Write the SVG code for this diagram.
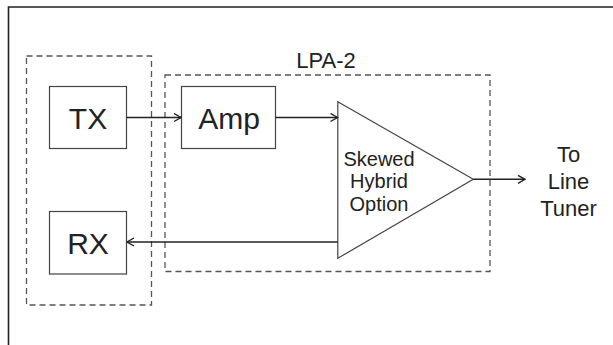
<svg xmlns="http://www.w3.org/2000/svg" width="613" height="345" viewBox="0 0 613 345">
<style>
.frame{fill:none;stroke:#222;stroke-width:1.6}
.dash{fill:none;stroke:#555;stroke-width:1.3;stroke-dasharray:6 4}
.box{fill:#fff;stroke:#444;stroke-width:1.2}
.line{fill:none;stroke:#222;stroke-width:1.4}
.big{font-family:"Liberation Sans",Arial,sans-serif;font-size:30px;fill:#222;text-anchor:middle}
.mid{font-family:"Liberation Sans",Arial,sans-serif;font-size:22px;fill:#222;text-anchor:middle}
.sm{font-family:"Liberation Sans",Arial,sans-serif;font-size:20px;fill:#222;text-anchor:middle}
</style>
<defs>
<marker id="arr" viewBox="0 0 10 10" refX="9" refY="5" markerWidth="10" markerHeight="10" markerUnits="userSpaceOnUse" orient="auto">
<path d="M2,1 L9,5 L2,9" fill="none" stroke="#222" stroke-width="1.4"/>
</marker>
</defs>
<rect width="613" height="345" fill="#fff"/>
<path class="frame" d="M8.5,345 V7 H613"/>
<g id="group-txrx"><rect class="dash" x="26.5" y="56" width="125" height="249"/></g>
<g id="group-lpa2"><rect class="dash" x="165" y="75" width="325" height="196.5"/>
<text class="mid" x="326" y="68">LPA-2</text></g>
<g id="tx"><rect class="box" x="49.5" y="86.5" width="77" height="62"/><text class="big" x="88" y="128.5">TX</text></g>
<g id="rx"><rect class="box" x="49.5" y="211.5" width="77" height="62.5"/><text class="big" x="88" y="253.5">RX</text></g>
<g id="amp"><rect class="box" x="181.5" y="86.5" width="94" height="62"/><text class="big" x="229" y="128.5">Amp</text></g>
<g id="hybrid"><polygon class="box" points="337.8,101.7 473.3,179.3 337.8,258.3"/>
<text class="sm" x="379" y="165.7">Skewed</text>
<text class="sm" x="379" y="188.3">Hybrid</text>
<text class="sm" x="379" y="210.7">Option</text></g>
<g id="tuner"><text class="mid" x="568.5" y="162">To</text><text class="mid" x="568.5" y="189">Line</text><text class="mid" x="568.5" y="215.7">Tuner</text></g>
<g id="connectors">
<line class="line" x1="126.5" y1="117.5" x2="181" y2="117.5" marker-end="url(#arr)"/>
<line class="line" x1="275.5" y1="117.5" x2="337.5" y2="117.5" marker-end="url(#arr)"/>
<line class="line" x1="473.3" y1="179.3" x2="525" y2="179.3" marker-end="url(#arr)"/>
<line class="line" x1="337.8" y1="242" x2="127" y2="242" marker-end="url(#arr)"/>
</g>
</svg>
